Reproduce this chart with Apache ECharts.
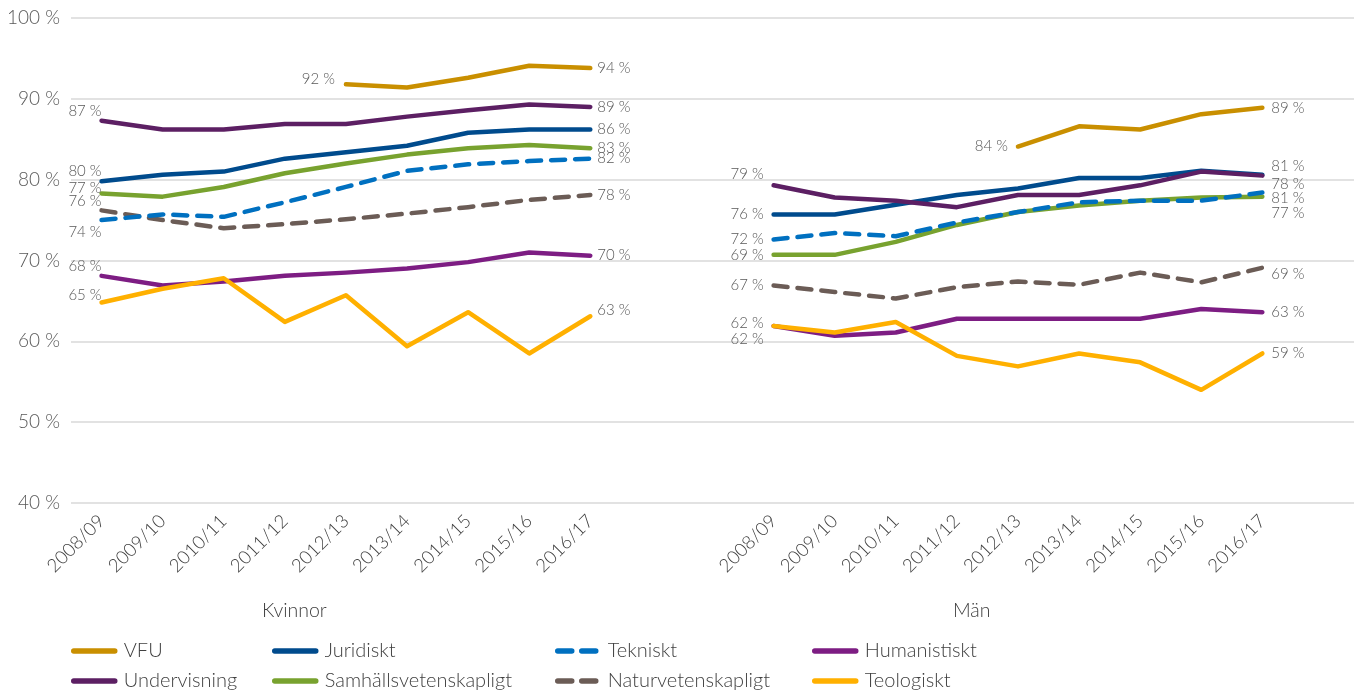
<!DOCTYPE html>
<html lang="sv">
<head>
<meta charset="UTF-8">
<title>Andel per utbildningsområde</title>
<script src="https://cdn.jsdelivr.net/npm/echarts@6/dist/echarts.min.js"></script>
<style>html,body{margin:0;padding:0;background:#fff}</style>
</head>
<body>
<div id="main" style="width:1354px;height:693px"></div>
<script>
// kategorier
var kvYears = ['2008/09', '2009/10', '2010/11', '2011/12', '2012/13', '2013/14', '2014/15', '2015/16', '2016/17'];
var manYears = ['2008/09', '2009/10', '2010/11', '2011/12', '2012/13', '2013/14', '2014/15', '2015/16', '2016/17'];

// Kvinnor
var vfuKv = [null, null, null, null, 91.8, 91.4, 92.6, 94.1, 93.8];
var jurKv = [79.8, 80.6, 81.0, 82.6, 83.4, 84.2, 85.8, 86.2, 86.2];
var tekKv = [75.0, 75.7, 75.4, 77.2, 79.1, 81.1, 81.9, 82.3, 82.6];
var humKv = [68.1, 66.9, 67.4, 68.1, 68.5, 69.0, 69.8, 71.0, 70.6];
var undKv = [87.3, 86.2, 86.2, 86.9, 86.9, 87.8, 88.6, 89.3, 89.0];
var samKv = [78.3, 77.9, 79.1, 80.8, 82.0, 83.1, 83.9, 84.3, 83.9];
var natKv = [76.2, 75.0, 74.0, 74.5, 75.1, 75.8, 76.6, 77.5, 78.1];
var teoKv = [64.8, 66.5, 67.8, 62.4, 65.7, 59.4, 63.6, 58.5, 63.1];

// Män
var vfuMan = [null, null, null, null, 84.1, 86.6, 86.2, 88.1, 88.9];
var jurMan = [75.7, 75.7, 76.9, 78.1, 78.9, 80.2, 80.2, 81.1, 80.6];
var tekMan = [72.6, 73.4, 73.0, 74.7, 76.0, 77.2, 77.4, 77.4, 78.4];
var humMan = [61.9, 60.7, 61.1, 62.8, 62.8, 62.8, 62.8, 64.0, 63.6];
var undMan = [79.3, 77.8, 77.4, 76.6, 78.1, 78.1, 79.3, 81.0, 80.5];
var samMan = [70.7, 70.7, 72.3, 74.4, 76.0, 76.8, 77.4, 77.8, 77.9];
var natMan = [66.9, 66.1, 65.3, 66.7, 67.4, 67.0, 68.5, 67.3, 69.1];
var teoMan = [61.9, 61.1, 62.4, 58.2, 56.9, 58.5, 57.4, 54.0, 58.5];

// etiketter som de står i diagrammet (första / sista punkten)
var names = ['VFU', 'Juridiskt', 'Tekniskt', 'Humanistiskt', 'Undervisning', 'Samhällsvetenskapligt', 'Naturvetenskapligt', 'Teologiskt'];
var kvFirstLbl = ['92 %', '80 %', '74 %', '68 %', '87 %', '77 %', '76 %', '65 %'];
var kvLastLbl = ['94 %', '86 %', '82 %', '70 %', '89 %', '83 %', '78 %', '63 %'];
var manFirstLbl = ['84 %', '76 %', '72 %', '62 %', '79 %', '69 %', '67 %', '62 %'];
var manLastLbl = ['89 %', '78 %', '81 %', '63 %', '81 %', '77 %', '69 %', '59 %'];

var yTicks = {min: 40, max: 100, step: 10};

var font = 'Lato, "Open Sans", sans-serif';
var lblColor = '#595959';

var categories = kvYears.concat(['', ''], manYears, ['']);

var seriesDef = {
    'VFU':                   {kv: vfuKv, man: vfuMan, color: '#C98F00', dash: false,
                              off: {kf: [-11, -5], kl: 0, mf: 0, ml: 0}},
    'Juridiskt':             {kv: jurKv, man: jurMan, color: '#004B8D', dash: false,
                              off: {kf: [0, -10], kl: 0, mf: 0, ml: 9}},
    'Tekniskt':              {kv: tekKv, man: tekMan, color: '#0070C0', dash: true,
                              off: {kf: [0, 12], kl: 0, mf: 0, ml: 6}},
    'Humanistiskt':          {kv: humKv, man: humMan, color: '#7D1D83', dash: false,
                              off: {kf: [0, -10], kl: 0, mf: 13, ml: 0}},
    'Undervisning':          {kv: undKv, man: undMan, color: '#5C1F63', dash: false,
                              off: {kf: [0, -10], kl: 0, mf: -11, ml: -9}},
    'Samhällsvetenskapligt': {kv: samKv, man: samMan, color: '#78A22F', dash: false,
                              off: {kf: [0, -5], kl: 0, mf: 0, ml: 17}},
    'Naturvetenskapligt':    {kv: natKv, man: natMan, color: '#6B5C56', dash: true,
                              off: {kf: [0, -9], kl: 0, mf: 0, ml: 6}},
    'Teologiskt':            {kv: teoKv, man: teoMan, color: '#FFB000', dash: false,
                              off: {kf: [0, -7], kl: -6, mf: -3, ml: 0}}
};

// ritordning (senare hamnar överst)
var drawOrder = ['Samhällsvetenskapligt', 'Naturvetenskapligt', 'Juridiskt', 'Tekniskt',
                 'Humanistiskt', 'Teologiskt', 'Undervisning', 'VFU'];

function firstIdx(arr) {
    for (var i = 0; i < arr.length; i++) if (arr[i] != null) return i;
    return 0;
}

function lbl(text, pos, dist, dy) {
    return {show: true, formatter: text, position: pos, distance: dist, offset: [0, dy],
            color: lblColor, fontSize: 15, fontFamily: font, fontWeight: 300};
}

var series = drawOrder.map(function (name) {
    var d = seriesDef[name];
    var k = names.indexOf(name);
    var raw = d.kv.concat([null, null], d.man, [null]);
    var kf = firstIdx(d.kv), mf = 11 + firstIdx(d.man);
    var data = raw.map(function (v, i) {
        if (v == null) return null;
        var item = {value: v};
        if (i === kf) item.label = lbl(kvFirstLbl[k], 'left', -d.off.kf[0], d.off.kf[1]);
        if (i === 8) item.label = lbl(kvLastLbl[k], 'right', 7, d.off.kl);
        if (i === mf) item.label = lbl(manFirstLbl[k], 'left', 10, d.off.mf);
        if (i === 19) item.label = lbl(manLastLbl[k], 'right', 9, d.off.ml);
        return item;
    });
    return {
        name: name,
        type: 'line',
        data: data,
        symbol: 'circle',
        symbolSize: 0,
        showSymbol: true,
        showAllSymbol: true,
        connectNulls: false,
        itemStyle: {color: d.color},
        lineStyle: {color: d.color, width: 4.5, type: d.dash ? [14, 10] : 'solid', cap: 'round', join: 'round'},
        label: {show: false},
        emphasis: {disabled: true},
        animation: false
    };
});

function legendCol(left, items) {
    return {
        orient: 'vertical',
        left: left,
        top: 641,
        height: 60,
        padding: 0,
        data: items,
        itemWidth: 41,
        itemHeight: 14,
        itemGap: 10,
        selectedMode: false,
        itemStyle: {opacity: 0},
        lineStyle: {width: 5.5, cap: 'round'},
        textStyle: {fontSize: 20, color: '#404040', fontFamily: font, fontWeight: 300, padding: [0, 0, 0, 4]}
    };
}

var myChart = echarts.init(document.getElementById('main'));
var option = {
    backgroundColor: '#fff',
    animation: false,
    grid: {left: 71, right: 0, top: 18, bottom: 190, containLabel: false},
    xAxis: {
        type: 'category',
        data: categories,
        boundaryGap: true,
        axisLine: {show: false},
        axisTick: {show: false},
        axisLabel: {interval: 0, rotate: 45, margin: 15, fontSize: 18.5, color: '#404040', fontFamily: font, fontWeight: 300}
    },
    yAxis: {
        type: 'value',
        min: yTicks.min,
        max: yTicks.max,
        interval: yTicks.step,
        axisLine: {show: false},
        axisTick: {show: false},
        axisLabel: {formatter: '{value} %', fontSize: 19, color: lblColor, margin: 11, fontFamily: font, fontWeight: 300},
        splitLine: {lineStyle: {color: '#D9D9D9', width: 1.5}}
    },
    legend: [
        legendCol(71, ['VFU', 'Undervisning']),
        legendCol(272, ['Juridiskt', 'Samhällsvetenskapligt']),
        legendCol(555, ['Tekniskt', 'Naturvetenskapligt']),
        legendCol(812, ['Humanistiskt', 'Teologiskt'])
    ],
    graphic: [
        {type: 'text', left: 262, top: 601, style: {text: 'Kvinnor', fill: '#404040', font: '300 19.5px ' + font}},
        {type: 'text', left: 953, top: 601, style: {text: 'Män', fill: '#404040', font: '300 19.5px ' + font}}
    ],
    series: series
};
myChart.setOption(option);
</script>
</body>
</html>
